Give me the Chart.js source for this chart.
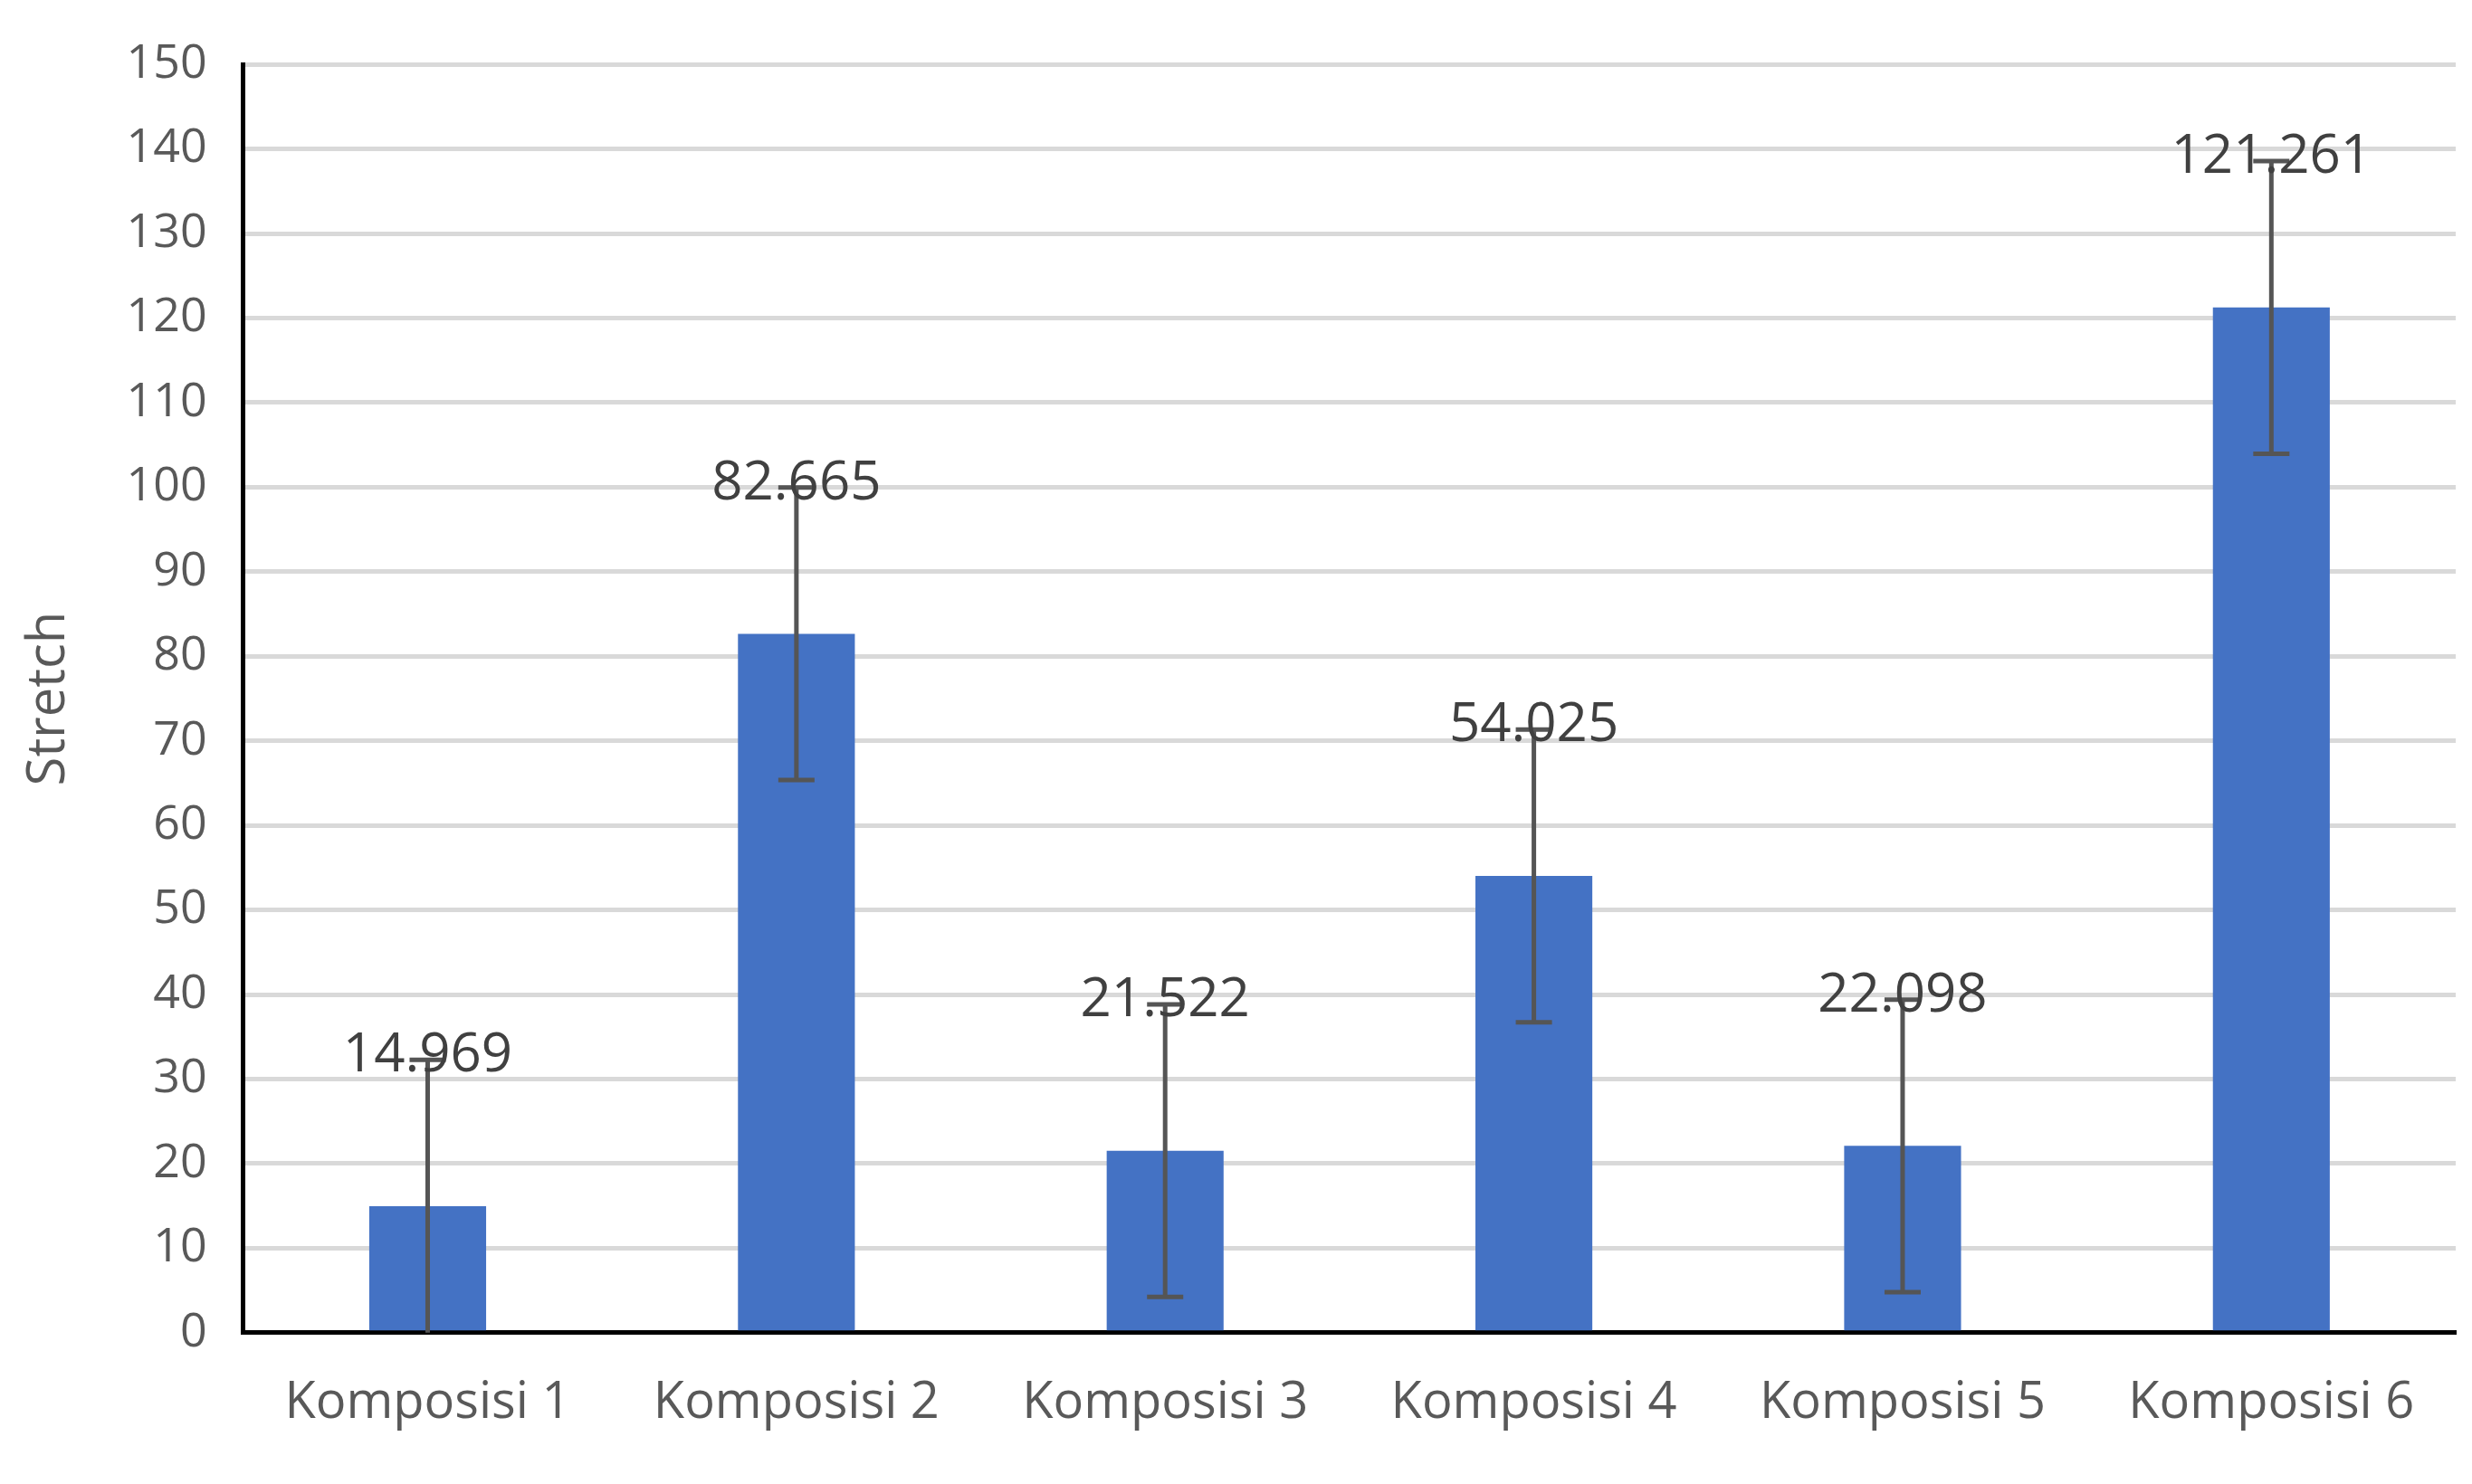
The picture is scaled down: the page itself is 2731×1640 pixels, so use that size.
<!DOCTYPE html>
<html><head><meta charset="utf-8">
<script src="https://cdn.jsdelivr.net/npm/chart.js@4/dist/chart.umd.min.js"></script>
<style>html,body{margin:0;padding:0;background:#fff}#w{width:2731px;height:1640px}</style>
</head><body><div id="w"><canvas id="c"></canvas></div>
<script>
const categories = ["Komposisi 1","Komposisi 2","Komposisi 3","Komposisi 4","Komposisi 5","Komposisi 6"];
const values = [14.969, 82.665, 21.522, 54.025, 22.098, 121.261];
const errors = [17.3, 17.3, 17.3, 17.3, 17.3, 17.3];
const valueLabels = ["14.969","82.665","21.522","54.025","22.098","121.261"];

const FONT = "'Open Sans', 'Liberation Sans', sans-serif";
const extras = {
  id: 'extras',
  afterDatasetsDraw(chart) {
    const ctx = chart.ctx, y = chart.scales.y, meta = chart.getDatasetMeta(0);
    ctx.save();
    meta.data.forEach((bar, i) => {
      const x = bar.x;
      const top = y.getPixelForValue(values[i] + errors[i]);
      const bot = y.getPixelForValue(Math.max(0, values[i] - errors[i]));
      ctx.strokeStyle = '#555555'; ctx.lineWidth = 5;
      ctx.beginPath(); ctx.moveTo(x, top); ctx.lineTo(x, bot);
      ctx.moveTo(x - 20, top); ctx.lineTo(x + 20, top);
      if (values[i] - errors[i] > 0) { ctx.moveTo(x - 20, bot); ctx.lineTo(x + 20, bot); }
      ctx.stroke();
      ctx.fillStyle = '#404040'; ctx.font = '60px ' + FONT;
      ctx.textAlign = 'center'; ctx.textBaseline = 'middle';
      ctx.fillText(valueLabels[i], x, top - 4);
    });
    ctx.restore();
  }
};
new Chart(document.getElementById('c'), {
  type: 'bar',
  data: { labels: categories, datasets: [{ data: values, backgroundColor: '#4472C4', barPercentage: 1, categoryPercentage: 0.317 }] },
  options: {
    responsive: true, maintainAspectRatio: false, animation: false,
    layout: { padding: { top: 30, right: 18, left: 10, bottom: 10 } },
    plugins: { legend: { display: false }, tooltip: { enabled: false } },
    scales: {
      x: {
        grid: { display: false, drawTicks: false },
        border: { color: '#000', width: 5 },
        ticks: { color: '#595959', font: { size: 56, family: FONT }, padding: 45, maxRotation: 0 }
      },
      y: {
        min: 0, max: 150,
        ticks: { stepSize: 10, color: '#595959', font: { size: 52, family: FONT }, padding: 40 },
        grid: { color: '#D9D9D9', lineWidth: 5, drawTicks: false },
        border: { color: '#000', width: 5 },
        title: { display: true, text: 'Stretch', color: '#595959', font: { size: 58, family: FONT }, padding: 10 }
      }
    }
  },
  plugins: [extras]
});
</script></body></html>
